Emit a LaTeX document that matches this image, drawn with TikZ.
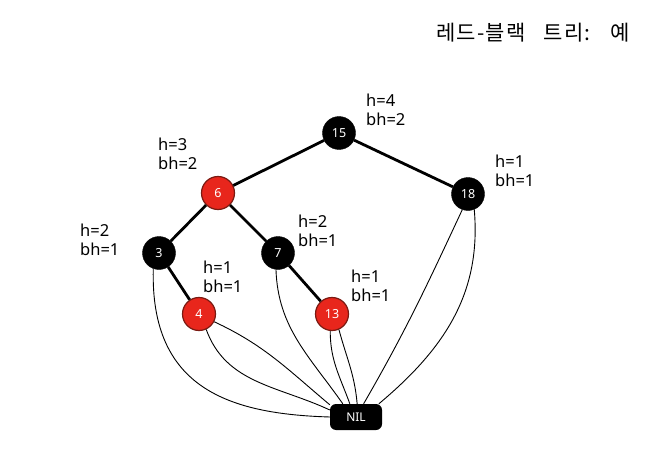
\documentclass[tikz,border=0pt]{standalone}
\usepackage{fontspec}
\setmainfont{Noto Sans}
\newfontfamily\krfont[LetterSpace=6,WordSpace=3]{Noto Sans CJK KR}
\usepackage{xcolor}
\usepackage{tikz}
\definecolor{rbred}{HTML}{E8261C}
\definecolor{rbedge}{HTML}{7A1A12}
\tikzset{
  blk/.style={circle, fill=black, draw=black, minimum size=33pt, inner sep=0pt,
    text=white, font=\fontsize{12.5}{14}\selectfont},
  rd/.style={blk, fill=rbred, draw=rbedge, line width=1.2pt},
  nilbox/.style={rectangle, rounded corners=6pt, fill=black, minimum width=52pt,
    minimum height=26pt, inner sep=0pt, text=white, font=\fontsize{12}{14}\selectfont},
  tree/.style={draw=black, line width=2.8pt},
  leaf/.style={draw=black, line width=0.9pt},
  hlab/.style={anchor=west, inner sep=0pt, align=left, font=\fontsize{16.5}{19}\selectfont}
}

\begin{document}
\begin{tikzpicture}[x=1pt,y=1pt]
  \useasboundingbox (0,0) rectangle (654,459);
  % title
  \node[anchor=east, inner sep=0pt, font=\krfont\fontsize{21}{24}\selectfont] (title) at (630,426) {레드-블랙 트리: 예};
  % nodes
  \node[blk] (n15) at (339,326) {15};
  \node[rd]  (n6)  at (218,266) {6};
  \node[blk] (n18) at (468,265) {18};
  \node[blk] (n3)  at (159,206) {3};
  \node[blk] (n7)  at (278,206) {7};
  \node[rd]  (n4)  at (199,145) {4};
  \node[rd]  (n13) at (332,145) {13};
  \node[nilbox] (nil) at (356,42) {NIL};
  % heights
  \node[hlab] (l15) at (366,349) {h=4\\bh=2};
  \node[hlab] (l6)  at (158,305) {h=3\\bh=2};
  \node[hlab] (l18) at (495,288) {h=1\\bh=1};
  \node[hlab] (l3)  at (80,219)  {h=2\\bh=1};
  \node[hlab] (l7)  at (298,228) {h=2\\bh=1};
  \node[hlab] (l4)  at (203,182) {h=1\\bh=1};
  \node[hlab] (l13) at (351,173) {h=1\\bh=1};
  % tree edges
  \draw[tree] (n15) -- (n6);
  \draw[tree] (n15) -- (n18);
  \draw[tree] (n6) -- (n3);
  \draw[tree] (n6) -- (n7);
  \draw[tree] (n3) -- (n4);
  \draw[tree] (n7) -- (n13);
  % leaves to NIL
  \draw[leaf] (n3.250) .. controls (150,70) and (230,45) .. (nil.west);
  \draw[leaf] (n4.-27) to[out=-25,in=140] (nil.155);
  \draw[leaf] (n4.-65) to[out=-70,in=155] (nil.165);
  \draw[leaf] (n7.263) to[out=-88,in=125] (nil.135);
  \draw[leaf] (n13.264) to[out=-90,in=110] (nil.115);
  \draw[leaf] (n13.-66) to[out=-75,in=95] (nil.85);
  \draw[leaf] (n18.250) to[out=-115,in=60] (nil.60);
  \draw[leaf] (n18.-68) to[out=-85,in=40] (nil.30);
\end{tikzpicture}
\end{document}
